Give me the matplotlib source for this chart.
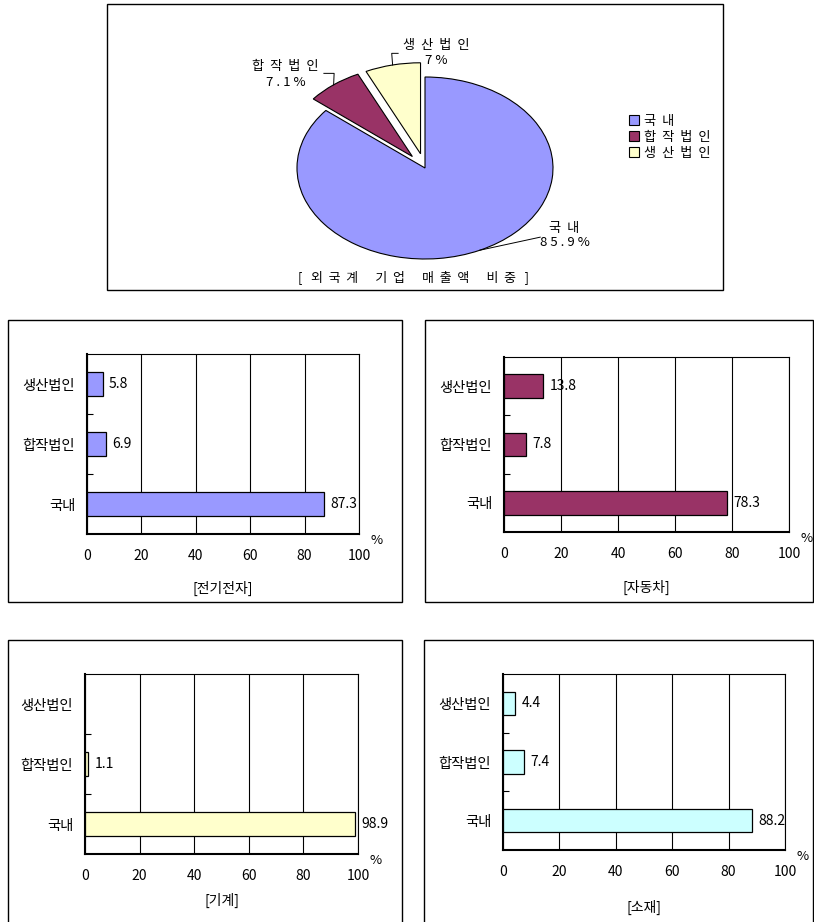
import numpy as np
import matplotlib
matplotlib.use("Agg")
import matplotlib.pyplot as plt
from matplotlib.patches import Rectangle, Patch

plt.rcParams['font.family'] = ['Noto Sans CJK KR', 'DejaVu Sans']

W, H = 814, 922

# === Data
pie_labels = ["국내", "합작법인", "생산법인"]
pie_values = [85.9, 7.1, 7.0]
pie_pct_text = ["85.9%", "7.1%", "7%"]
pie_colors = ["#9999FF", "#993366", "#FFFFCC"]
pie_title = ["외국계", "기업", "매출액", "비중"]

bar_categories = ["국내", "합작법인", "생산법인"]
sectors = ["전기전자", "자동차", "기계", "소재"]
elec_values = [87.3, 6.9, 5.8]
auto_values = [78.3, 7.8, 13.8]
mach_values = [98.9, 1.1, None]
matl_values = [88.2, 7.4, 4.4]
bar_colors = ["#9999FF", "#993366", "#FFFFCC", "#CCFFFF"]
x_ticks = [0, 20, 40, 60, 80, 100]


# === Helpers (reference pixel coords -> figure fractions)
def fx(x):
    return x / W


def fy(y):
    return 1 - y / H


def add_axes_px(fig, l, t, r, b):
    return fig.add_axes([l / W, 1 - b / H, (r - l) / W, (b - t) / H])


def add_box(fig, l, t, r, b):
    fig.add_artist(Rectangle((fx(l), fy(b)), (r - l) / W, (b - t) / H,
                             transform=fig.transFigure, fill=False,
                             edgecolor="black", linewidth=1.0))


def spaced(s, gap=" "):
    # letter-spaced look of the old Excel chart text
    return gap.join(s)


fig = plt.figure(figsize=(W / 100, H / 100), dpi=100)
fig.patch.set_facecolor("white")

# === Pie panel
add_box(fig, 107, 4, 723, 290)
ax = add_axes_px(fig, 265, 54.25, 585, 281.75)
wedges, _ = ax.pie(pie_values, colors=pie_colors, startangle=90, counterclock=False,
                   explode=[0, 0.16, 0.16],
                   wedgeprops=dict(edgecolor="black", linewidth=0.8))
ax.set_aspect("auto")
ax.set_xlim(-1.25, 1.25)
ax.set_ylim(-1.25, 1.25)

# leader line bends and label spots (data units)
leader_pts = [[(0.90, -0.76)],
              [(-0.71, 1.04), (-0.79, 1.04)],
              [(-0.26, 1.26), (-0.21, 1.26)]]
label_pos = [(1.09, -0.66, -0.82), (-1.09, 1.11, 0.945), (0.086, 1.35, 1.18)]
for w, pts, (tx, ty1, ty2), name, pct in zip(wedges, leader_pts, label_pos,
                                               pie_labels, pie_pct_text):
    th = np.deg2rad((w.theta1 + w.theta2) / 2)
    cx, cy = w.center
    xs = [cx + np.cos(th)] + [p[0] for p in pts]
    ys = [cy + np.sin(th)] + [p[1] for p in pts]
    ax.plot(xs, ys, color="black", lw=0.7, clip_on=False)
    ax.text(tx, ty1, spaced(name, "  "), ha="center", va="center", fontsize=9.5)
    ax.text(tx, ty2, spaced(pct), ha="center", va="center", fontsize=9.5)

handles = [Patch(facecolor=c, edgecolor="black", linewidth=0.8) for c in pie_colors]
fig.legend(handles, [spaced(s, "  ") for s in pie_labels], loc="upper left",
           bbox_to_anchor=(fx(617), fy(103)), frameon=False, fontsize=9.5,
           handlelength=0.75, handleheight=0.75, handletextpad=0.4, labelspacing=0.22)
title_txt = "[   " + "      ".join(spaced(w, "  ") for w in pie_title) + "   ]"
fig.text(fx(413), fy(277), title_txt, ha="center", va="center", fontsize=9.3)

# === Bar panels
panel_boxes = [(8, 320, 402, 602), (425, 320, 813, 602),
               (8, 640, 402, 930), (424, 640, 813, 930)]
plot_boxes = [(87, 354, 359, 534), (504, 357, 789, 532),
              (85, 674, 358, 854), (503, 674, 785, 850)]
title_gap = [54, 55, 46, 57]

for i, vals in enumerate([elec_values, auto_values, mach_values, matl_values]):
    add_box(fig, *panel_boxes[i])
    l, t, r, b = plot_boxes[i]
    ax = add_axes_px(fig, l, t, r, b)
    ypos = np.arange(len(bar_categories))
    ys = [y for y, v in zip(ypos, vals) if v is not None]
    vs = [v for v in vals if v is not None]
    ax.barh(ys, vs, height=0.4, color=bar_colors[i], edgecolor="black",
            linewidth=0.9, zorder=3)
    for y, v in zip(ys, vs):
        ax.annotate(f"{v}", (v, y), xytext=(4.5, 0), textcoords="offset points",
                    ha="left", va="center", fontsize=10)

    ax.set_xlim(0, 100)
    ax.set_ylim(-0.5, 2.5)
    ax.set_xticks(x_ticks)
    ax.set_yticks(ypos, bar_categories)
    ax.set_yticks([0.5, 1.5], minor=True)
    ax.xaxis.grid(True, color="black", linewidth=0.8)
    ax.set_axisbelow(True)
    ax.tick_params(axis="x", length=0, pad=10.5, labelsize=10)
    ax.tick_params(axis="y", which="major", length=0, pad=8.5, labelsize=10.3)
    ax.tick_params(axis="y", which="minor", direction="in", length=4, width=0.8)
    for side in ["top", "right"]:
        ax.spines[side].set_linewidth(0.8)
    for side in ["left", "bottom"]:
        ax.spines[side].set_linewidth(1.5)

    ax.annotate("%", (1, 0), xycoords="axes fraction", xytext=(12.5, -4.5),
                textcoords="offset points", ha="center", va="center", fontsize=9.5)
    ax.annotate(f"[{sectors[i]}]", (0.5, 0), xycoords="axes fraction",
                xytext=(0, -title_gap[i] * 0.72), textcoords="offset points",
                ha="center", va="center", fontsize=10)

fig.savefig("out.png", dpi=100)
